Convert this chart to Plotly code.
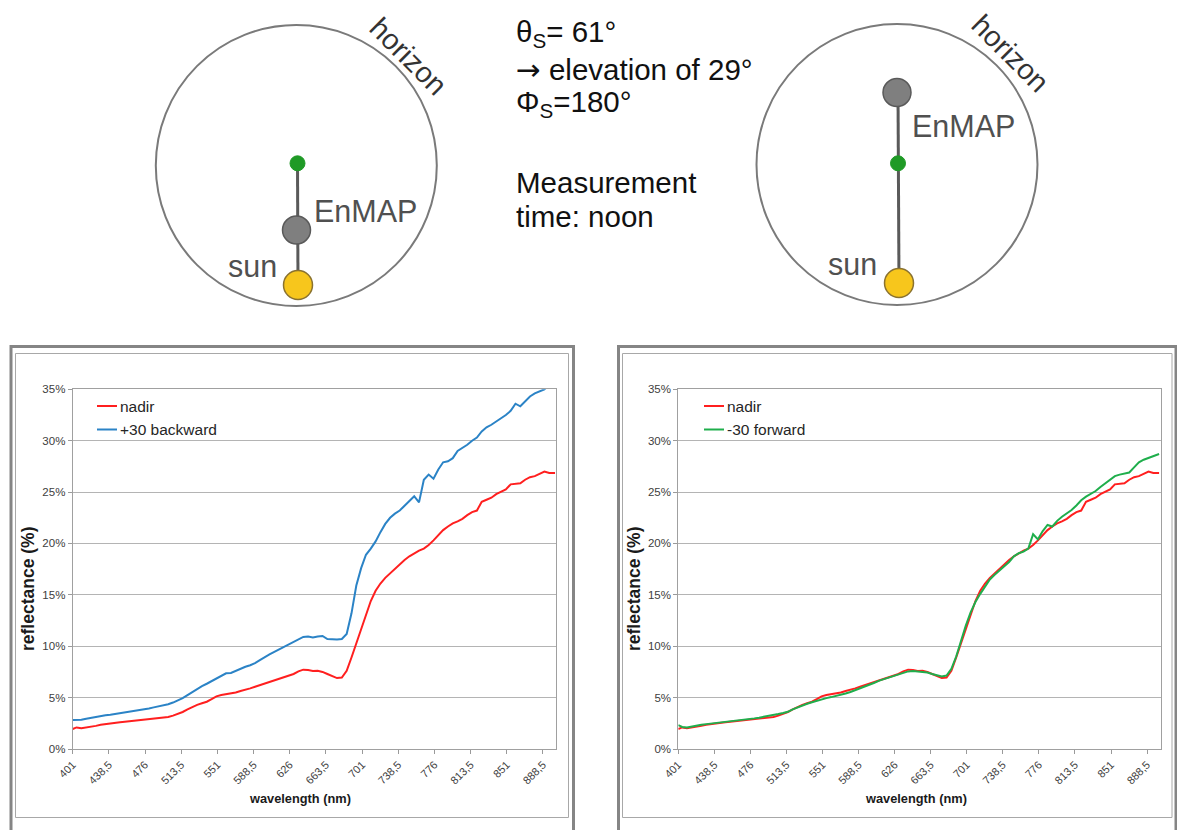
import plotly.graph_objects as go

# ---------------- data ----------------
wavelength = [401] + list(range(405, 900, 5)) + [901]

nadir = [1.95, 2.10, 2.03, 2.08, 2.17, 2.25, 2.35, 2.43, 2.50, 2.55,
         2.60, 2.65, 2.70, 2.73, 2.77, 2.82, 2.86, 2.92, 2.98, 3.05,
         3.12, 3.25, 3.42, 3.60, 3.85, 4.08, 4.30, 4.45, 4.60, 4.85,
         5.12, 5.25, 5.32, 5.38, 5.50, 5.65, 5.75, 5.90, 6.05, 6.20,
         6.35, 6.52, 6.68, 6.82, 6.95, 7.08, 7.30, 7.55, 7.72, 7.68,
         7.60, 7.62, 7.50, 7.30, 7.10, 6.90, 6.95, 7.60, 8.90, 10.3,
         11.6, 13.1, 14.4, 15.4, 16.1, 16.65, 17.1, 17.55, 18.0, 18.4,
         18.75, 19.05, 19.3, 19.5, 19.85, 20.3, 20.8, 21.3, 21.65, 21.95,
         22.15, 22.4, 22.75, 23.05, 23.2, 24.05, 24.25, 24.45, 24.8, 25.05,
         25.25, 25.75, 25.8, 25.85, 26.2, 26.45, 26.55, 26.75, 27.0, 26.85,
         26.85]

backward30 = [2.82, 2.82, 2.85, 2.95, 3.05, 3.10, 3.20, 3.28, 3.33, 3.40,
              3.47, 3.53, 3.60, 3.68, 3.76, 3.86, 3.95, 4.05, 4.15, 4.22,
              4.35, 4.52, 4.72, 4.95, 5.25, 5.55, 5.85, 6.12, 6.35, 6.60,
              6.82, 7.05, 7.37, 7.40, 7.60, 7.86, 8.00, 8.15, 8.35, 8.65,
              8.95, 9.20, 9.45, 9.70, 9.95, 10.15, 10.45, 10.70, 10.90, 10.95,
              10.85, 10.95, 11.00, 10.70, 10.65, 10.65, 10.70, 11.20, 13.2, 15.9,
              17.6, 18.9, 19.5, 20.2, 21.1, 21.9, 22.5, 22.9, 23.2, 23.7,
              24.1, 24.6, 24.0, 26.2, 26.7, 26.3, 27.2, 27.9, 28.0, 28.3,
              29.0, 29.3, 29.6, 30.0, 30.3, 30.9, 31.3, 31.55, 31.85, 32.2,
              32.5, 32.9, 33.6, 33.35, 33.8, 34.3, 34.6, 34.8, 35.0, 35.4,
              35.8]

forward30 = [2.33, 2.15, 2.10, 2.20, 2.26, 2.35, 2.42, 2.47, 2.52, 2.60,
             2.66, 2.72, 2.78, 2.83, 2.88, 2.93, 2.98, 3.05, 3.12, 3.20,
             3.30, 3.40, 3.50, 3.62, 3.85, 4.05, 4.25, 4.40, 4.55, 4.70,
             4.82, 4.95, 5.05, 5.15, 5.26, 5.40, 5.55, 5.72, 5.88, 6.05,
             6.25, 6.45, 6.65, 6.80, 6.95, 7.10, 7.30, 7.45, 7.55, 7.58,
             7.55, 7.50, 7.45, 7.30, 7.15, 7.05, 7.15, 7.80, 9.00, 10.6,
             12.0, 13.3, 14.3, 15.1, 15.8, 16.5, 16.95, 17.4, 17.75, 18.2,
             18.75, 19.05, 19.2, 19.5, 20.9, 20.4, 21.2, 21.8, 21.65, 22.2,
             22.6, 22.9, 23.25, 23.7, 24.2, 24.55, 24.8, 25.1, 25.5, 25.85,
             26.2, 26.55, 26.7, 26.8, 26.9, 27.4, 27.9, 28.15, 28.3, 28.45,
             28.7]

x_tick_values = [401 + 37.5 * i for i in range(14)]
x_tick_labels = ["401", "438,5", "476", "513,5", "551", "588,5", "626",
                 "663,5", "701", "738,5", "776", "813,5", "851", "888,5"]
y_tick_values = [0, 5, 10, 15, 20, 25, 30, 35]
y_tick_labels = ["0%", "5%", "10%", "15%", "20%", "25%", "30%", "35%"]

series_left = [("nadir", nadir, "#ff1f1f"), ("+30 backward", backward30, "#2b83c6")]
series_right = [("nadir", nadir, "#ff1f1f"), ("-30 forward", forward30, "#1fae4c")]

info_lines = ["θ<sub>S</sub>= 61°",
              "<span style='font-family:DejaVu Sans'>→</span> elevation of 29°",
              "Φ<sub>S</sub>=180°",
              "Measurement", "time: noon"]

# ---------------- helpers ----------------
W, H = 1177, 830
FONT = "Liberation Sans, Arial, sans-serif"


def px(x):
    return x / W


def py(y):
    return 1 - y / H


fig = go.Figure()

for name, vals, col in series_left:
    fig.add_trace(go.Scatter(x=wavelength, y=vals, mode="lines", name=name,
                             line=dict(color=col, width=2), xaxis="x", yaxis="y",
                             showlegend=False))
for name, vals, col in series_right:
    fig.add_trace(go.Scatter(x=wavelength, y=vals, mode="lines", name=name,
                             line=dict(color=col, width=2), xaxis="x2", yaxis="y2",
                             showlegend=False))

axis_common_x = dict(
    tickmode="array", tickvals=x_tick_values, ticktext=x_tick_labels,
    tickangle=-45, tickfont=dict(family=FONT, size=11, color="#404040"),
    ticks="outside", ticklen=4, tickcolor="#9a9a9a",
    showgrid=False, showline=True, linecolor="#a0a0a0", linewidth=1, mirror=True,
    zeroline=False, fixedrange=True, automargin=False,
)
axis_common_y = dict(
    range=[0, 35], tickmode="array", tickvals=y_tick_values, ticktext=y_tick_labels,
    tickfont=dict(family=FONT, size=11.5, color="#404040"),
    ticks="outside", ticklen=4, tickcolor="#9a9a9a",
    showgrid=True, gridcolor="#b4b4b4", gridwidth=1,
    showline=True, linecolor="#a0a0a0", linewidth=1, mirror=True,
    zeroline=False, fixedrange=True, automargin=False,
)

L_x0, L_x1 = 72.7, 556.0
R_x0, R_x1 = 678.3, 1161.0
P_top, P_bot = 389.3, 749.0

fig.update_layout(
    template="none",
    width=W, height=H, margin=dict(l=0, r=0, t=0, b=0, pad=0, autoexpand=False),
    paper_bgcolor="white", plot_bgcolor="white",
    font=dict(family=FONT),
    showlegend=False,
    xaxis=dict(domain=[px(L_x0), px(L_x1)], range=[401, 902], anchor="y", **axis_common_x),
    yaxis=dict(domain=[py(P_bot), py(P_top)], anchor="x", **axis_common_y),
    xaxis2=dict(domain=[px(R_x0), px(R_x1)], range=[401, 903], anchor="y2", **axis_common_x),
    yaxis2=dict(domain=[py(P_bot), py(P_top)], anchor="x2", **axis_common_y),
)

shapes = []
annotations = []

# chart frames
for ox0, ox1, ix0, ix1 in [(11, 573.5, 15.5, 568.5), (618.5, 1176, 622.5, 1172)]:
    shapes.append(dict(type="rect", xref="paper", yref="paper",
                       x0=px(ox0), x1=px(ox1), y0=py(834), y1=py(346.5),
                       line=dict(color="#858585", width=3), layer="below"))
    shapes.append(dict(type="rect", xref="paper", yref="paper",
                       x0=px(ix0), x1=px(ix1), y0=py(817.5), y1=py(353.5),
                       line=dict(color="#a8a8a8", width=1), layer="below"))

# legends (manual) and axis titles
for series, lx, tx_y, tx_x in [(series_left, 97, 28, 300), (series_right, 704, 634, 916)]:
    for i, (name, vals, col) in enumerate(series):
        yy = 406 + 23.5 * i
        shapes.append(dict(type="line", xref="paper", yref="paper",
                           x0=px(lx), x1=px(lx + 20), y0=py(yy), y1=py(yy),
                           line=dict(color=col, width=2)))
        annotations.append(dict(xref="paper", yref="paper", x=px(lx + 21), y=py(yy),
                                text=name, showarrow=False, xanchor="left", yanchor="middle",
                                font=dict(family=FONT, size=15.5, color="#262626")))
    annotations.append(dict(xref="paper", yref="paper", x=px(tx_y), y=py(589),
                            text="<b>reflectance (%)</b>", textangle=-90, showarrow=False,
                            xanchor="center", yanchor="middle",
                            font=dict(family=FONT, size=17.5, color="#1a1a1a")))
    annotations.append(dict(xref="paper", yref="paper", x=px(tx_x), y=py(798),
                            text="<b>wavelength (nm)</b>", showarrow=False,
                            xanchor="center", yanchor="middle",
                            font=dict(family=FONT, size=12.8, color="#1a1a1a")))


# sky diagrams
def circle(cx, cy, r, fill, line_col, lw):
    return dict(type="circle", xref="paper", yref="paper",
                x0=px(cx - r), x1=px(cx + r), y0=py(cy + r), y1=py(cy - r),
                fillcolor=fill, line=dict(color=line_col, width=lw))


diagrams = [
    dict(c=(296.3, 165.5), enmap=(296.5, 230), green=(297.5, 163.3), sun=(298, 285),
         line=(163.3, 285), enmap_txt=(312, 211), sun_txt=(252.5, 266), hz=(408, 56)),
    dict(c=(897, 164.5), enmap=(897, 92.5), green=(898, 163.3), sun=(899, 283),
         line=(92.5, 283), enmap_txt=(910, 126), sun_txt=(852.5, 264), hz=(1010, 53)),
]
for d in diagrams:
    cx, cy = d["c"]
    shapes.append(circle(cx, cy, 140.5, "rgba(0,0,0,0)", "#7a7a7a", 2))
    shapes.append(dict(type="line", xref="paper", yref="paper",
                       x0=px(d["green"][0]), x1=px(d["sun"][0]),
                       y0=py(d["line"][0]), y1=py(d["line"][1]),
                       line=dict(color="#5a5a5a", width=3)))
    shapes.append(circle(d["enmap"][0], d["enmap"][1], 14, "#7f7f7f", "#5a5a5a", 1.5))
    shapes.append(circle(d["green"][0], d["green"][1], 7.5, "#1f9a26", "#1f9a26", 1))
    shapes.append(circle(d["sun"][0], d["sun"][1], 14.5, "#f7c61c", "#8a7230", 1.5))
    annotations.append(dict(xref="paper", yref="paper", x=px(d["enmap_txt"][0]),
                            y=py(d["enmap_txt"][1]), text="EnMAP", showarrow=False,
                            xanchor="left", yanchor="middle",
                            font=dict(family=FONT, size=30.5, color="#505050")))
    annotations.append(dict(xref="paper", yref="paper", x=px(d["sun_txt"][0]),
                            y=py(d["sun_txt"][1]), text="sun", showarrow=False,
                            xanchor="center", yanchor="middle",
                            font=dict(family=FONT, size=30.5, color="#505050")))
    annotations.append(dict(xref="paper", yref="paper", x=px(d["hz"][0]),
                            y=py(d["hz"][1]), text="horizon", showarrow=False,
                            xanchor="center", yanchor="middle", textangle=45,
                            font=dict(family=FONT, size=29, color="#333333")))

# info text block
for text, yy in zip(info_lines, [33, 70, 104, 182, 216]):
    annotations.append(dict(xref="paper", yref="paper", x=px(514), y=py(yy),
                            text=text, showarrow=False, xanchor="left", yanchor="middle",
                            font=dict(family=FONT, size=29.5, color="#111111")))

fig.update_layout(shapes=shapes, annotations=annotations)
fig.write_html(
    "out.html",
    post_script="document.body.style.margin='0px';document.body.style.padding='0px';"
                "document.documentElement.style.overflow='hidden';",
)
